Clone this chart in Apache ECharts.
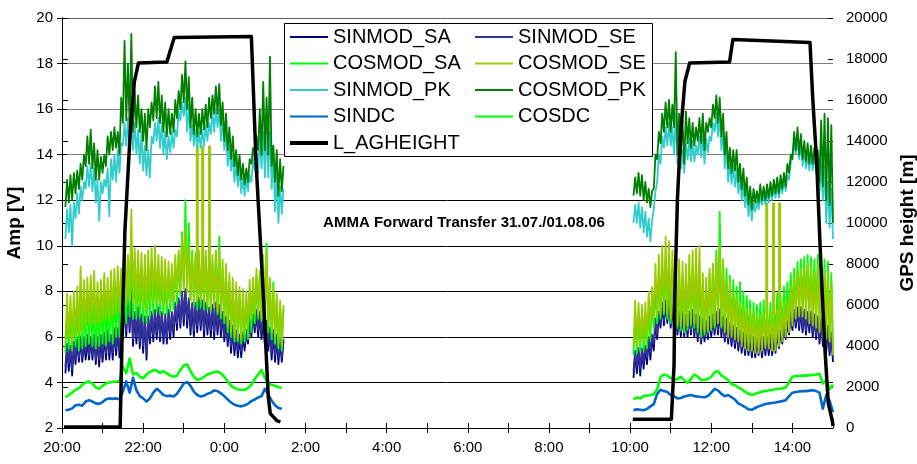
<!DOCTYPE html>
<html>
<head>
<meta charset="utf-8">
<script src="https://cdn.jsdelivr.net/npm/echarts@6/dist/echarts.min.js"></script>
<style>
html,body{margin:0;padding:0;background:#fff;}
#chart{width:917px;height:464px;}
</style>
</head>
<body>
<div id="chart"></div>
<script>
// Flight-leg samples: one value every 5 minutes from each leg's first sample;
// the fast modulation channels carry a second reading in each 5-minute window (*_H arrays)
const SAMPLE_STEP_MIN = 5;
const HALF_STEP_MIN = 2.5;
const LEG_A_START = '20:05';   // 31.07.
const LEG_B_START = '10:05';   // 01.08.

// ---- Leg A (20:05 .. 01:25), 65 samples ----
const SINMOD_SA_A = [
  4.4, 5.5, 4.3, 5.8, 4.9, 5.8, 5.0, 5.9, 5.0, 5.9,
  4.7, 6.1, 5.0, 6.0, 5.0, 6.3, 5.1, 7.5, 6.0, 8.0,
  5.6, 7.2, 5.5, 6.8, 5.0, 7.0, 5.8, 7.2, 5.8, 6.9,
  5.7, 7.0, 6.0, 7.6, 6.4, 8.0, 6.4, 7.4, 6.0, 7.6,
  6.3, 7.4, 6.1, 7.3, 5.9, 7.3, 6.0, 6.8, 5.6, 6.4,
  5.2, 6.0, 5.1, 6.2, 5.7, 6.9, 6.2, 7.0, 5.9, 6.6,
  5.4, 6.2, 4.9, 5.8, 4.9
];
const SINMOD_SA_A_H = [
  5.6, 4.5, 5.7, 4.8, 5.9, 4.9, 5.8, 5.0, 6.0, 4.8,
  6.0, 4.9, 6.2, 5.0, 6.3, 5.2, 6.8, 5.9, 7.8, 6.2,
  7.0, 5.7, 6.9, 5.3, 6.8, 5.7, 7.1, 5.9, 7.0, 5.7,
  7.1, 5.9, 7.4, 6.3, 7.9, 6.5, 7.6, 6.1, 7.4, 6.2,
  7.5, 6.0, 7.2, 6.0, 7.4, 6.1, 7.0, 5.8, 6.6, 5.3,
  6.2, 5.1, 6.1, 5.4, 6.8, 6.0, 7.1, 6.0, 6.8, 5.6,
  6.3, 5.0, 6.0, 4.8, 5.8
];
const SINMOD_SE_A = [
  4.7, 5.6, 4.6, 5.9, 5.1, 6.0, 5.3, 6.0, 5.2, 6.0,
  5.0, 6.2, 5.3, 6.1, 5.3, 6.4, 5.4, 7.6, 6.3, 7.8,
  5.9, 7.3, 5.8, 6.9, 5.3, 7.1, 6.1, 7.3, 6.0, 7.0,
  6.0, 7.1, 6.3, 7.7, 6.6, 8.1, 6.7, 7.5, 6.3, 7.7,
  6.5, 7.5, 6.4, 7.4, 6.2, 7.4, 6.3, 6.9, 5.9, 6.5,
  5.5, 6.1, 5.4, 6.3, 5.9, 7.0, 6.4, 7.1, 6.2, 6.7,
  5.7, 6.3, 5.2, 5.9, 5.1
];
const SINMOD_SE_A_H = [
  5.7, 4.8, 5.8, 5.0, 6.0, 5.1, 6.1, 5.2, 6.1, 5.0,
  6.1, 5.2, 6.3, 5.3, 6.4, 5.5, 6.9, 6.2, 7.9, 6.4,
  7.1, 6.0, 7.0, 5.6, 6.9, 6.0, 7.2, 6.2, 7.1, 6.0,
  7.2, 6.2, 7.5, 6.6, 8.0, 6.8, 7.7, 6.4, 7.5, 6.5,
  7.6, 6.3, 7.3, 6.3, 7.5, 6.4, 7.1, 6.1, 6.7, 5.6,
  6.3, 5.4, 6.2, 5.7, 6.9, 6.3, 7.2, 6.3, 6.9, 5.9,
  6.4, 5.3, 6.1, 5.1, 5.9
];
const COSMOD_SA_A = [
  5.3, 6.9, 5.4, 7.2, 5.4, 7.3, 5.6, 7.8, 5.6, 7.3,
  5.6, 7.8, 5.6, 7.8, 5.7, 7.9, 6.0, 8.5, 6.6, 9.6,
  6.8, 8.6, 6.9, 8.4, 6.6, 8.8, 7.0, 8.6, 7.0, 8.4,
  7.0, 8.5, 7.2, 9.6, 7.8, 12.0, 11.0, 7.6, 9.5, 7.2,
  9.5, 7.2, 9.4, 7.1, 7.3, 10.4, 6.8, 8.9, 6.2, 8.0,
  5.8, 7.9, 5.7, 7.6, 5.9, 8.1, 6.6, 8.8, 6.7, 10.1,
  6.2, 8.4, 5.7, 7.4, 5.4
];
const COSMOD_SA_A_H = [
  7.0, 5.5, 7.1, 5.6, 7.4, 5.5, 7.6, 5.7, 7.5, 5.5,
  7.7, 5.7, 7.6, 5.8, 8.0, 6.0, 8.3, 6.4, 9.0, 6.9,
  8.8, 6.8, 8.6, 6.7, 8.7, 6.9, 8.8, 7.1, 8.5, 7.0,
  8.7, 7.1, 9.2, 7.5, 10.6, 8.2, 8.0, 9.8, 7.4, 9.4,
  7.3, 9.6, 7.2, 9.2, 9.8, 7.0, 9.0, 6.6, 8.4, 6.0,
  8.0, 5.8, 7.8, 5.8, 8.0, 6.2, 8.6, 6.8, 9.2, 6.5,
  8.2, 5.9, 7.6, 5.5, 7.2
];
const COSMOD_SE_A = [
  5.7, 7.8, 5.8, 8.2, 9.1, 6.2, 8.6, 6.6, 8.9, 6.5,
  8.5, 6.7, 8.6, 6.7, 9.0, 7.0, 9.0, 10.6, 7.4, 11.6,
  7.5, 9.8, 7.5, 9.6, 7.2, 9.9, 7.5, 9.6, 7.5, 9.4,
  7.4, 9.2, 7.6, 9.8, 8.0, 10.8, 8.0, 9.6, 7.5, 9.8,
  7.6, 9.8, 7.4, 9.6, 7.3, 9.9, 7.0, 9.2, 6.5, 8.6,
  6.0, 8.2, 5.9, 8.0, 6.4, 8.6, 7.0, 8.9, 6.8, 9.8,
  6.6, 8.2, 6.0, 7.6, 5.6
];
const COSMOD_SE_A_H = [
  7.9, 5.9, 8.0, 6.0, 6.1, 8.5, 6.4, 8.7, 6.6, 8.4,
  6.6, 8.8, 6.8, 8.9, 6.9, 9.1, 7.1, 7.3, 9.6, 7.6,
  9.9, 7.4, 9.7, 7.3, 9.8, 7.6, 10.0, 7.5, 9.5, 7.4,
  9.3, 7.5, 9.6, 7.9, 10.4, 8.1, 10.0, 7.6, 9.7, 7.6,
  9.9, 7.5, 9.8, 7.2, 9.7, 7.1, 9.4, 6.8, 8.8, 6.2,
  8.4, 5.9, 8.1, 6.1, 8.5, 6.8, 9.0, 7.0, 9.6, 6.7,
  8.6, 6.2, 7.9, 5.7, 7.4
];
const SINMOD_PK_A = [
  10.3, 11.8, 10.0, 12.3, 11.4, 12.8, 12.5, 13.6, 12.4, 12.9,
  11.1, 12.9, 12.6, 11.3, 14.0, 12.8, 14.5, 14.4, 15.6, 14.5,
  15.4, 14.0, 15.0, 13.3, 14.2, 13.0, 15.4, 14.6, 15.4, 14.0,
  14.8, 14.1, 15.1, 14.8, 16.3, 15.7, 16.2, 14.6, 15.1, 14.3,
  15.1, 14.4, 15.4, 14.9, 16.0, 15.2, 15.6, 14.2, 14.4, 13.3,
  13.6, 12.6, 13.0, 12.2, 13.1, 12.8, 14.0, 13.2, 15.0, 13.0,
  15.0, 12.5, 13.2, 11.0, 12.5
];
const SINMOD_PK_A_H = [
  11.6, 10.6, 11.9, 11.2, 12.6, 12.0, 13.5, 12.6, 13.4, 11.9,
  12.8, 12.3, 13.4, 13.8, 12.9, 14.2, 13.2, 15.4, 14.4, 15.5,
  14.2, 15.1, 13.6, 14.4, 13.1, 14.8, 14.5, 15.6, 14.3, 15.0,
  13.8, 15.0, 14.3, 15.9, 15.5, 16.5, 15.0, 15.3, 14.4, 15.0,
  14.3, 15.3, 14.6, 15.9, 15.0, 16.0, 14.6, 15.0, 13.5, 14.0,
  12.8, 13.4, 12.3, 13.0, 12.4, 13.8, 13.3, 14.8, 13.4, 15.2,
  13.0, 14.0, 11.5, 12.6, 11.4
];
const COSMOD_PK_A = [
  11.7, 13.1, 12.0, 13.3, 12.5, 14.0, 13.5, 15.1, 13.4, 14.2,
  12.9, 14.0, 13.5, 15.0, 14.2, 15.0, 14.0, 19.0, 15.5, 19.3,
  15.0, 16.6, 15.0, 15.8, 14.2, 16.3, 15.5, 17.2, 15.4, 16.3,
  14.8, 15.8, 15.0, 16.8, 16.0, 18.1, 16.0, 16.5, 14.9, 15.8,
  14.9, 16.2, 15.2, 16.6, 15.8, 17.1, 15.3, 15.8, 14.2, 14.8,
  13.5, 14.0, 12.9, 13.4, 12.8, 14.3, 13.8, 16.0, 14.0, 16.5,
  18.3, 13.5, 14.2, 12.2, 13.5
];
const COSMOD_PK_A_H = [
  12.9, 11.9, 13.2, 12.3, 13.6, 12.9, 14.8, 13.6, 14.5, 12.9,
  13.9, 13.2, 14.8, 14.0, 15.2, 14.3, 16.5, 15.4, 18.0, 15.2,
  16.8, 15.2, 16.0, 14.6, 16.0, 15.2, 17.0, 15.6, 16.6, 15.0,
  16.0, 14.9, 16.4, 15.6, 17.5, 16.3, 17.4, 15.2, 16.0, 14.8,
  16.0, 15.1, 16.5, 15.6, 17.0, 15.8, 16.3, 14.6, 15.2, 13.8,
  14.2, 13.1, 13.6, 12.7, 13.8, 13.6, 14.8, 14.2, 17.2, 14.2,
  14.0, 14.4, 12.8, 13.8, 12.4
];
const SINDC_A = [
  2.78, 2.80, 2.86, 3.00, 3.02, 2.98, 3.16, 3.22, 3.16, 3.08,
  3.06, 3.14, 3.26, 3.30, 3.28, 3.30, 3.26, 3.60, 4.05, 3.55,
  4.20, 3.66, 3.40, 3.30, 3.16, 3.30, 3.55, 3.72, 3.60, 3.45,
  3.40, 3.42, 3.38, 3.50, 3.72, 3.95, 4.02, 3.85, 3.60, 3.45,
  3.38, 3.42, 3.50, 3.55, 3.65, 3.62, 3.52, 3.40, 3.25, 3.12,
  3.02, 2.98, 2.95, 3.00, 3.06, 3.18, 3.25, 3.34, 3.40, 3.72,
  3.48, 3.20, 3.00, 2.88, 2.84
];
const COSDC_A = [
  3.35, 3.45, 3.55, 3.68, 3.74, 3.90, 4.00, 4.04, 3.95, 3.78,
  3.72, 3.85, 3.96, 4.00, 4.02, 4.04, 4.05, 4.70, 4.40, 5.05,
  4.35, 4.42, 4.25, 4.18, 4.35, 4.45, 4.55, 4.52, 4.42, 4.50,
  4.40, 4.30, 4.25, 4.30, 4.55, 4.75, 4.80, 4.50, 4.25, 4.12,
  4.15, 4.25, 4.35, 4.40, 4.45, 4.48, 4.40, 4.25, 4.05, 3.85,
  3.75, 3.70, 3.67, 3.68, 3.75, 3.90, 4.15, 4.35, 4.55, 4.20,
  3.95, 3.90, 3.85, 3.80, 3.75
];

// ---- Leg B (10:05 .. 15:00), 60 samples ----
const SINMOD_SA_B = [
  4.2, 5.4, 4.3, 5.5, 4.8, 6.0, 5.4, 7.0, 6.4, 7.5,
  6.6, 7.4, 6.2, 7.0, 6.0, 6.9, 6.0, 7.1, 6.0, 6.8,
  5.7, 6.6, 5.9, 6.9, 6.1, 7.1, 6.0, 6.7, 5.7, 6.4,
  5.5, 6.2, 5.3, 6.0, 5.2, 5.9, 5.1, 5.9, 5.1, 5.9,
  5.2, 6.0, 5.3, 6.2, 5.7, 6.6, 6.1, 7.1, 6.4, 7.2,
  6.2, 7.0, 6.2, 6.9, 5.9, 6.7, 5.6, 6.4, 5.2, 5.8
];
const SINMOD_SA_B_H = [
  5.3, 4.4, 5.4, 4.6, 5.9, 5.0, 6.6, 5.9, 7.4, 6.5,
  7.6, 6.4, 7.2, 6.1, 7.0, 6.0, 7.0, 6.1, 6.9, 5.8,
  6.7, 5.8, 6.8, 6.0, 7.0, 6.1, 6.8, 5.8, 6.5, 5.6,
  6.3, 5.4, 6.1, 5.2, 6.0, 5.1, 5.8, 5.2, 5.9, 5.2,
  6.0, 5.2, 6.2, 5.5, 6.5, 5.9, 7.0, 6.3, 7.2, 6.3,
  7.1, 6.1, 7.0, 6.0, 6.8, 5.7, 6.5, 5.3, 6.1, 4.9
];
const SINMOD_SE_B = [
  4.5, 5.5, 4.6, 5.6, 5.1, 6.1, 5.7, 7.1, 6.6, 7.6,
  6.8, 7.5, 6.4, 7.1, 6.2, 7.0, 6.3, 7.2, 6.2, 6.9,
  5.9, 6.7, 6.1, 7.0, 6.3, 7.2, 6.2, 6.8, 5.9, 6.5,
  5.7, 6.3, 5.5, 6.1, 5.4, 6.0, 5.3, 6.0, 5.3, 6.0,
  5.4, 6.1, 5.5, 6.3, 5.9, 6.7, 6.3, 7.2, 6.6, 7.3,
  6.4, 7.1, 6.4, 7.0, 6.1, 6.8, 5.8, 6.5, 5.4, 5.9
];
const SINMOD_SE_B_H = [
  5.4, 4.7, 5.5, 4.9, 6.0, 5.3, 6.8, 6.1, 7.5, 6.7,
  7.7, 6.6, 7.3, 6.3, 7.1, 6.2, 7.1, 6.3, 7.0, 6.0,
  6.8, 6.0, 6.9, 6.2, 7.1, 6.3, 6.9, 6.0, 6.6, 5.8,
  6.4, 5.6, 6.2, 5.4, 6.1, 5.3, 5.9, 5.4, 6.0, 5.4,
  6.1, 5.4, 6.3, 5.7, 6.6, 6.1, 7.1, 6.5, 7.3, 6.5,
  7.2, 6.3, 7.1, 6.2, 6.9, 5.9, 6.6, 5.5, 6.2, 5.1
];
const COSMOD_SA_B = [
  5.2, 6.8, 5.4, 6.8, 5.5, 7.4, 6.4, 8.6, 6.8, 9.2,
  6.8, 8.8, 6.4, 8.6, 6.3, 8.5, 6.3, 9.0, 6.4, 8.9,
  6.0, 8.2, 6.2, 9.2, 6.4, 11.5, 6.4, 9.0, 6.2, 8.5,
  6.2, 8.4, 5.9, 7.8, 5.8, 7.5, 5.7, 7.5, 5.8, 7.4,
  5.8, 7.6, 5.9, 7.8, 6.2, 8.4, 6.6, 9.0, 7.2, 9.4,
  7.3, 9.6, 7.1, 9.4, 6.9, 9.8, 6.5, 9.3, 6.0, 7.8
];
const COSMOD_SA_B_H = [
  6.9, 5.3, 7.0, 5.4, 7.2, 5.9, 8.2, 6.6, 9.0, 7.0,
  9.0, 6.6, 8.7, 6.4, 8.6, 6.2, 8.8, 6.5, 9.1, 6.2,
  8.4, 6.1, 8.8, 6.3, 9.8, 6.6, 9.4, 6.3, 8.7, 6.3,
  8.2, 6.0, 8.0, 5.8, 7.6, 5.7, 7.4, 5.8, 7.6, 5.7,
  7.5, 5.8, 7.9, 6.0, 8.2, 6.4, 8.8, 6.9, 9.3, 7.3,
  9.5, 7.2, 9.5, 7.0, 9.6, 6.7, 9.4, 6.2, 8.8, 5.5
];
const COSMOD_SE_B = [
  5.6, 7.5, 5.7, 7.5, 5.9, 8.2, 6.8, 9.6, 7.0, 10.4,
  7.0, 9.8, 6.6, 9.4, 6.5, 9.2, 6.5, 9.8, 6.6, 10.0,
  6.2, 8.6, 6.3, 9.2, 6.5, 10.0, 6.5, 8.6, 6.0, 8.0,
  5.9, 7.5, 5.6, 7.2, 5.4, 7.1, 5.3, 6.9, 5.4, 7.0,
  5.5, 7.0, 5.4, 7.3, 5.8, 7.6, 6.2, 8.6, 6.8, 9.0,
  6.9, 9.2, 6.6, 8.8, 6.4, 9.4, 6.0, 8.8, 5.8, 7.2
];
const COSMOD_SE_B_H = [
  7.6, 5.6, 7.4, 5.8, 8.0, 6.3, 9.2, 6.9, 10.0, 7.1,
  10.2, 6.8, 9.6, 6.5, 9.3, 6.4, 9.6, 6.6, 9.9, 6.4,
  8.8, 6.2, 9.0, 6.4, 9.6, 6.6, 9.4, 6.2, 8.4, 6.0,
  7.8, 5.8, 7.4, 5.5, 7.2, 5.4, 7.0, 5.3, 7.1, 5.5,
  7.1, 5.4, 7.2, 5.6, 7.5, 6.0, 8.2, 6.5, 8.9, 6.9,
  9.0, 6.8, 9.1, 6.5, 9.2, 6.2, 9.0, 5.9, 8.4, 5.2
];
const SINMOD_PK_B = [
  11.0, 11.9, 10.8, 11.5, 10.4, 10.2, 12.4, 12.8, 14.8, 14.3,
  15.4, 14.4, 15.8, 13.6, 14.2, 13.2, 14.7, 13.7, 14.4, 14.0,
  14.8, 13.6, 14.8, 14.6, 15.8, 14.8, 15.0, 13.4, 13.6, 12.7,
  13.4, 12.3, 12.7, 11.7, 12.0, 11.1, 12.0, 11.6, 12.3, 11.8,
  12.5, 12.0, 12.7, 12.1, 12.9, 12.4, 13.6, 13.6, 14.8, 13.8,
  14.2, 13.4, 14.1, 13.3, 13.9, 12.3, 13.5, 11.0, 12.5, 10.3
];
const SINMOD_PK_B_H = [
  11.8, 11.0, 11.7, 10.6, 11.2, 11.1, 11.6, 14.0, 13.6, 15.2,
  14.4, 15.2, 14.0, 14.6, 13.4, 14.5, 13.8, 14.6, 13.7, 14.8,
  13.9, 14.7, 14.1, 15.4, 15.0, 15.7, 14.2, 14.4, 12.8, 13.5,
  12.6, 13.0, 12.0, 12.4, 11.3, 11.9, 11.5, 12.2, 11.8, 12.4,
  11.9, 12.6, 12.1, 12.8, 12.3, 13.1, 12.9, 14.5, 14.0, 14.6,
  13.5, 14.0, 13.3, 14.0, 13.2, 13.6, 12.0, 12.8, 10.8, 11.4
];
const COSMOD_PK_B = [
  12.2, 13.2, 12.2, 12.8, 11.9, 12.4, 12.5, 15.0, 14.5, 16.3,
  15.2, 16.2, 18.5, 14.0, 15.5, 13.6, 15.6, 14.3, 15.2, 14.6,
  15.8, 14.2, 15.6, 15.2, 16.6, 15.4, 15.8, 14.0, 14.3, 13.2,
  14.2, 12.8, 13.4, 12.2, 12.6, 11.6, 12.4, 11.9, 12.6, 12.0,
  12.8, 12.2, 13.0, 12.3, 13.2, 12.6, 14.0, 13.8, 15.2, 14.0,
  14.6, 13.7, 14.4, 13.6, 14.2, 12.8, 15.8, 12.0, 15.3, 11.0
];
const COSMOD_PK_B_H = [
  13.0, 12.3, 13.1, 12.0, 12.5, 11.7, 14.0, 13.8, 15.8, 15.0,
  16.4, 15.0, 15.2, 15.8, 14.0, 15.9, 14.5, 15.4, 14.4, 15.6,
  14.5, 15.4, 15.0, 16.2, 15.6, 16.5, 14.8, 15.0, 13.4, 14.2,
  13.3, 13.6, 12.5, 13.0, 11.8, 12.5, 11.9, 12.7, 12.0, 12.7,
  12.1, 12.9, 12.3, 13.1, 12.5, 13.6, 13.2, 15.0, 14.2, 14.9,
  13.8, 14.5, 13.6, 14.3, 13.4, 15.5, 12.6, 15.6, 11.8, 11.8
];
const SINDC_B = [
  2.78, 2.82, 2.80, 2.78, 2.84, 2.95, 3.05, 3.50, 3.68, 3.62,
  3.58, 3.45, 3.40, 3.30, 3.32, 3.38, 3.42, 3.45, 3.40, 3.38,
  3.36, 3.35, 3.40, 3.55, 3.72, 3.65, 3.50, 3.40, 3.45, 3.35,
  3.25, 3.08, 3.00, 2.92, 2.82, 2.80, 2.88, 2.95, 3.00, 3.05,
  3.08, 3.10, 3.12, 3.15, 3.18, 3.22, 3.40, 3.55, 3.58, 3.60,
  3.62, 3.62, 3.64, 3.66, 3.62, 3.55, 2.85, 3.45, 3.20, 2.70
];
const COSDC_B = [
  3.25, 3.35, 3.30, 3.40, 3.42, 3.45, 3.48, 3.70, 4.25, 4.35,
  4.30, 4.20, 4.10, 4.15, 4.25, 4.10, 3.98, 4.15, 4.35, 4.25,
  4.10, 4.12, 4.15, 4.25, 4.45, 4.50, 4.30, 4.22, 4.10, 3.92,
  3.88, 3.78, 3.70, 3.60, 3.50, 3.45, 3.50, 3.55, 3.60, 3.62,
  3.65, 3.67, 3.70, 3.72, 3.74, 3.78, 4.00, 4.25, 4.28, 4.28,
  4.30, 4.30, 4.32, 4.33, 4.35, 4.38, 3.95, 4.10, 3.70, 3.90
];

// Short COSMOD_SE bursts (time, level before, peak level)
const COSMOD_SE_BURST_TIME = ['23:20', '23:28', '23:38', '13:22', '13:32', '13:41'];
const COSMOD_SE_BURST_BASE = [8.0, 8.0, 8.0, 7.0, 7.0, 7.0];
const COSMOD_SE_BURST_PEAK = [14.4, 14.4, 14.4, 11.9, 11.9, 11.9];

// GPS height above ground [m]
const LAG_TIME_A = ['20:03', '21:26', '21:29', '21:33', '21:41', '21:47', '21:53', '22:35', '22:46',
                    '0:40', '0:47', '0:58', '1:05', '1:08', '1:18', '1:23'];
const LAG_VALUE_A = [50, 50, 4700, 9600, 14500, 16900, 17800, 17850, 19050,
                     19100, 12900, 6300, 1500, 700, 350, 300];
const LAG_TIME_B = ['10:04', '11:01', '11:05', '11:06', '11:10', '11:15', '11:21', '11:28', '12:27',
                    '12:32', '14:26', '14:30', '14:36', '14:42', '14:48', '14:53', '14:59', '15:00'];
const LAG_VALUE_B = [430, 430, 3100, 6300, 11200, 14500, 16900, 17800, 17850,
                     18950, 18800, 16100, 12900, 8000, 3900, 1200, 350, 100];

// Axis ranges (x in minutes after 20:00 on 31.07.)
const X_MIN = 0, X_MAX = 1140, X_STEP = 60;
const AMP_MIN = 2, AMP_MAX = 20, AMP_STEP = 2;
const GPS_MIN = 0, GPS_MAX = 20000, GPS_STEP = 2000;
const TITLE_TEXT = 'AMMA Forward Transfer 31.07./01.08.06';

const FONT = "'Liberation Sans', Arial, Helvetica, sans-serif";

function toMin(s) {
  const [h, m] = s.split(':').map(Number);
  return h >= 20 ? (h - 20) * 60 + m : (h + 4) * 60 + m;
}
function leg(start, values) {
  const t0 = toMin(start);
  return values.map((v, i) => [t0 + i * SAMPLE_STEP_MIN, v]);
}
// each 5-minute window: its lower reading, then its higher reading half a step later
function legDense(start, values, second) {
  const t0 = toMin(start);
  const out = [];
  values.forEach((v, i) => {
    const t = t0 + i * SAMPLE_STEP_MIN;
    const lo = Math.min(v, second[i]), hi = Math.max(v, second[i]);
    out.push([t, lo]);
    if (t + HALF_STEP_MIN <= X_MAX) out.push([t + HALF_STEP_MIN, hi]);
  });
  return out;
}
const GAP = [[600, null]];
function twoLegs(a, b) {
  return leg(LEG_A_START, a).concat(GAP, leg(LEG_B_START, b));
}
function twoLegsDense(a, ah, b, bh) {
  return legDense(LEG_A_START, a, ah).concat(GAP, legDense(LEG_B_START, b, bh));
}
function pairs(times, values) {
  return times.map((t, i) => [toMin(t), values[i]]);
}
function bursts() {
  const out = [];
  COSMOD_SE_BURST_TIME.forEach((t, i) => {
    const x = toMin(t);
    out.push([x, COSMOD_SE_BURST_BASE[i]], [x, COSMOD_SE_BURST_PEAK[i]], [x, null]);
  });
  return out;
}

function line(name, color, width, data, opts) {
  return Object.assign({
    name, type: 'line', data, yAxisIndex: 0,
    symbol: 'none', showSymbol: false, connectNulls: false,
    lineStyle: { color, width, join: 'round' }, itemStyle: { color },
    emphasis: { disabled: true }, silent: true, animation: false
  }, opts || {});
}

const NOISY_W = 1.8;
const series = [
  line('SINMOD_SA', '#000080', NOISY_W, twoLegsDense(SINMOD_SA_A, SINMOD_SA_A_H, SINMOD_SA_B, SINMOD_SA_B_H)),
  line('SINMOD_SE', '#333399', NOISY_W, twoLegsDense(SINMOD_SE_A, SINMOD_SE_A_H, SINMOD_SE_B, SINMOD_SE_B_H)),
  line('COSMOD_SA', '#00FF00', NOISY_W, twoLegsDense(COSMOD_SA_A, COSMOD_SA_A_H, COSMOD_SA_B, COSMOD_SA_B_H)),
  line('COSMOD_SE', '#99CC00', NOISY_W, twoLegsDense(COSMOD_SE_A, COSMOD_SE_A_H, COSMOD_SE_B, COSMOD_SE_B_H)),
  line('COSMOD_SE', '#99CC00', 3, bursts()),
  line('SINMOD_PK', '#33CCCC', NOISY_W, twoLegsDense(SINMOD_PK_A, SINMOD_PK_A_H, SINMOD_PK_B, SINMOD_PK_B_H)),
  line('COSMOD_PK', '#008000', NOISY_W, twoLegsDense(COSMOD_PK_A, COSMOD_PK_A_H, COSMOD_PK_B, COSMOD_PK_B_H)),
  line('SINDC', '#0066CC', 2.6, twoLegs(SINDC_A, SINDC_B)),
  line('COSDC', '#00FF00', 2.6, twoLegs(COSDC_A, COSDC_B)),
  line('L_AGHEIGHT', '#000000', 3.5,
       pairs(LAG_TIME_A, LAG_VALUE_A).concat(GAP, pairs(LAG_TIME_B, LAG_VALUE_B)), { yAxisIndex: 1 })
];

const labelStyle = { color: '#000', fontSize: 15, fontFamily: FONT };
const nameStyle = { color: '#000', fontSize: 19, fontWeight: 'bold', fontFamily: FONT };

function clock(v) {
  if (v % 120 !== 0 || v >= X_MAX) return '';
  return ((20 + v / 60) % 24) + ':00';
}

const xBase = { type: 'value', min: X_MIN, max: X_MAX, interval: X_STEP, position: 'bottom', splitLine: { show: false } };
const ampBase = { type: 'value', min: AMP_MIN, max: AMP_MAX, interval: AMP_STEP, position: 'left' };
const gpsBase = { type: 'value', min: GPS_MIN, max: GPS_MAX, interval: GPS_STEP, position: 'right', splitLine: { show: false } };

// thin / thick line icons for the legend
const THIN_ICON = 'path://M0,0H38V2H0Z';
const THICK_ICON = 'path://M0,0H38V4H0Z';
function legendItems(names) {
  return names.map(n => ({ name: n, icon: n === 'L_AGHEIGHT' ? THICK_ICON : THIN_ICON }));
}
function legendColumn(names, left) {
  return {
    data: legendItems(names),
    orient: 'vertical', left, top: 27, padding: 0, itemGap: 6.5,
    itemWidth: 38, itemHeight: 14, selectedMode: false,
    textStyle: { color: '#000', fontSize: 20, fontFamily: FONT }
  };
}

const option = {
  backgroundColor: '#fff',
  animation: false,
  grid: { left: 62, right: 84, top: 18, bottom: 36, containLabel: false, outerBoundsMode: 'none' },
  xAxis: [
    Object.assign({}, xBase, {
      axisLine: { show: true, lineStyle: { color: '#000', width: 1 } },
      axisTick: { show: true, inside: false, length: 5, lineStyle: { color: '#000' } },
      axisLabel: Object.assign({ margin: 12, formatter: clock, showMaxLabel: false }, labelStyle)
    }),
    Object.assign({}, xBase, {
      axisLine: { show: false },
      axisTick: { show: true, inside: true, length: 5, lineStyle: { color: '#000' } },
      axisLabel: { show: false }
    })
  ],
  yAxis: [
    Object.assign({}, ampBase, {
      name: 'Amp [V]', nameLocation: 'middle', nameRotate: 90, nameGap: 38, nameTextStyle: nameStyle,
      axisLine: { show: true, lineStyle: { color: '#000', width: 1 } },
      axisTick: { show: true, inside: false, length: 5, lineStyle: { color: '#000' } },
      axisLabel: Object.assign({ margin: 9 }, labelStyle),
      splitLine: { show: true, lineStyle: { width: 1, color: ['#000', '#000', '#000', '#000', '#000', '#000', '#808080', '#808080', '#808080', '#606060'] } }
    }),
    Object.assign({}, gpsBase, {
      name: 'GPS height [m]', nameLocation: 'middle', nameRotate: 90, nameGap: 48, nameTextStyle: nameStyle,
      axisLine: { show: true, lineStyle: { color: '#000', width: 1 } },
      axisTick: { show: true, inside: false, length: 6, lineStyle: { color: '#000' } },
      axisLabel: Object.assign({ margin: 13, formatter: v => String(v) }, labelStyle)
    }),
    Object.assign({}, ampBase, {
      splitLine: { show: false }, axisLine: { show: false },
      axisTick: { show: true, inside: true, length: 5, lineStyle: { color: '#000' } },
      axisLabel: { show: false }
    }),
    Object.assign({}, gpsBase, {
      axisLine: { show: false },
      axisTick: { show: true, inside: true, length: 5, lineStyle: { color: '#000' } },
      axisLabel: { show: false }
    })
  ],
  legend: [
    legendColumn(['SINMOD_SA', 'COSMOD_SA', 'SINMOD_PK', 'SINDC', 'L_AGHEIGHT'], 290),
    legendColumn(['SINMOD_SE', 'COSMOD_SE', 'COSMOD_PK', 'COSDC'], 475)
  ],
  graphic: [
    { type: 'rect', z: 3, silent: true, shape: { x: 284.5, y: 23.5, width: 368, height: 133 },
      style: { fill: '#fff', stroke: '#000', lineWidth: 1 } },
    { type: 'text', z: 5, silent: true, x: 464, y: 223,
      style: { text: TITLE_TEXT, fill: '#000', font: 'bold 15px ' + FONT, textAlign: 'center', textVerticalAlign: 'middle' } }
  ],
  series
};

const chart = echarts.init(document.getElementById('chart'), null, { renderer: 'canvas' });
chart.setOption(option);
</script>
</body>
</html>
